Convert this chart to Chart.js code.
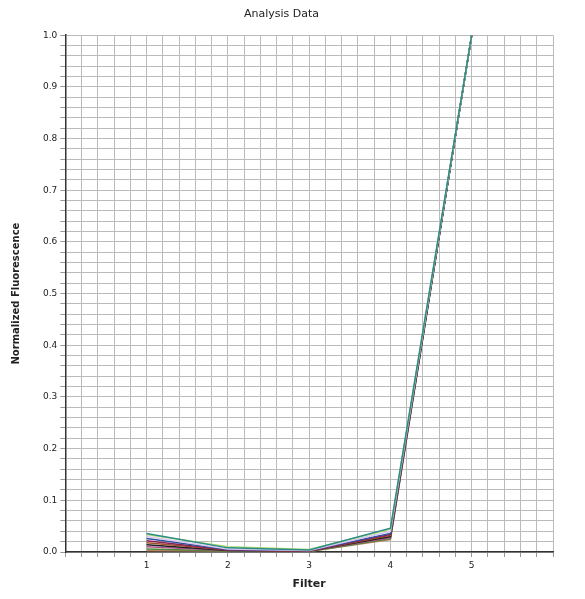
<!DOCTYPE html>
<html>
<head>
<script src="https://cdn.jsdelivr.net/npm/chart.js@4"></script>
<style>
body { margin: 0; background: #fff; }
#wrap { width: 585px; height: 599px; }
</style>
</head>
<body>
<div id="wrap"><canvas id="chart"></canvas></div>
<script>
//Filter positions and the values of each well
const filters = [1, 2, 3, 4, 5];
const wellA = [0.036, 0.008, 0.004, 0.046, 1.0];
const wellB = [0.034, 0.010, 0.005, 0.044, 1.0];
const wellC = [0.030, 0.006, 0.003, 0.040, 1.0];
const wellD = [0.026, 0.005, 0.003, 0.036, 1.0];
const wellE = [0.022, 0.004, 0.002, 0.034, 1.0];
const wellF = [0.018, 0.004, 0.002, 0.032, 1.0];
const wellG = [0.014, 0.003, 0.002, 0.030, 1.0];
const wellH = [0.010, 0.003, 0.002, 0.028, 1.0];
const wellI = [0.006, 0.002, 0.001, 0.026, 1.0];
const wellJ = [0.003, 0.002, 0.001, 0.024, 1.0];
const colors = ['#2e8b8b', '#a6d96a', '#d8c8f0', '#3050a0', '#8b2252', '#a0522d', '#202020', '#b05090', '#4a8a3a', '#c08060'];
const wells = [wellA, wellB, wellC, wellD, wellE, wellF, wellG, wellH, wellI, wellJ];

const data = {
    datasets: wells.map((w, i) => ({
        data: w.map((v, j) => ({x: filters[j], y: v})),
        borderColor: colors[i],
        borderWidth: 1.5,
        pointRadius: 0,
        fill: false
    }))
};

const config = {
    type: 'line',
    data: data,
    options: {
        animation: false,
        responsive: true,
        maintainAspectRatio: false,
        layout: { padding: { left: 10, right: 32, top: 0, bottom: 4 } },
        scales: {
            x: {
                type: 'linear',
                min: 0,
                max: 6,
                border: { color: '#333', width: 1.5 },
                grid: { color: '#bbb', tickLength: 5, tickColor: '#999' },
                ticks: {
                    stepSize: 0.2,
                    autoSkip: false,
                    maxRotation: 0,
                    color: '#222',
                    font: { size: 9, family: 'DejaVu Sans' },
                    callback: (v) => (Math.abs(v - Math.round(v)) < 1e-6 && v >= 1 && v <= 5) ? Math.round(v) : ''
                },
                title: { display: true, text: 'Filter', color: '#222', font: { size: 11, weight: 'bold', family: 'DejaVu Sans' } }
            },
            y: {
                min: 0,
                max: 1,
                border: { color: '#333', width: 1.5 },
                grid: { color: '#bbb', tickLength: 5, tickColor: '#999' },
                ticks: {
                    stepSize: 0.02,
                    autoSkip: false,
                    color: '#222',
                    font: { size: 9, family: 'DejaVu Sans' },
                    callback: (v) => {
                        const t = Math.round(v * 100);
                        return t % 10 === 0 ? (t / 100).toFixed(1) : '';
                    }
                },
                title: { display: true, text: 'Normalized Fluorescence', color: '#222', padding: { top: 0, bottom: 18 }, font: { size: 10, weight: 'bold', family: 'DejaVu Sans' } }
            }
        },
        plugins: {
            legend: { display: false },
            tooltip: { enabled: false },
            title: { display: true, text: 'Analysis Data', color: '#222', padding: { top: 8, bottom: 14 }, font: { size: 11, weight: 'normal', family: 'DejaVu Sans' } }
        }
    }
};

const myChart = new Chart(document.getElementById('chart').getContext('2d'), config);
</script>
</body>
</html>
